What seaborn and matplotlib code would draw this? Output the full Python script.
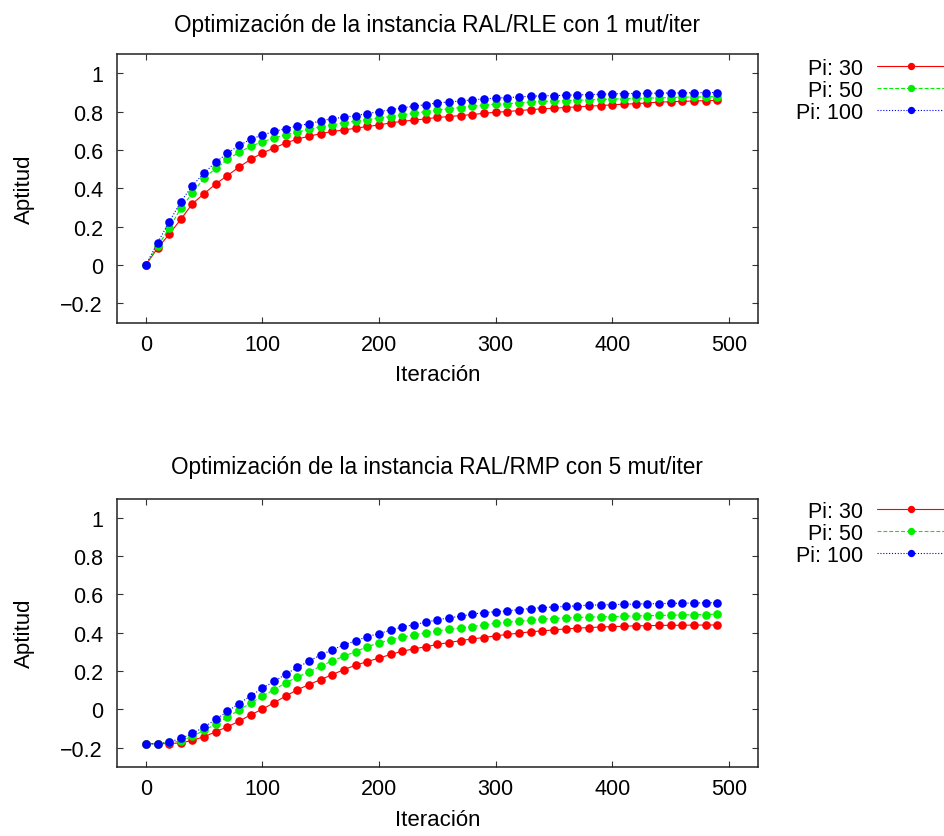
import matplotlib
matplotlib.use("Agg")
import matplotlib.pyplot as plt
import seaborn as sns

# Iteration numbers sampled every 10 steps
iteraciones = [0, 10, 20, 30, 40, 50, 60, 70, 80, 90,
               100, 110, 120, 130, 140, 150, 160, 170, 180, 190,
               200, 210, 220, 230, 240, 250, 260, 270, 280, 290,
               300, 310, 320, 330, 340, 350, 360, 370, 380, 390,
               400, 410, 420, 430, 440, 450, 460, 470, 480, 490]

# RAL/RLE, 1 mutation per iteration
rle_pi30 = [0.000, 0.087, 0.160, 0.238, 0.320, 0.372, 0.423, 0.466, 0.511, 0.551,
            0.584, 0.610, 0.636, 0.657, 0.671, 0.685, 0.696, 0.704, 0.713, 0.722,
            0.730, 0.741, 0.749, 0.755, 0.762, 0.769, 0.774, 0.779, 0.784, 0.791,
            0.796, 0.800, 0.805, 0.810, 0.814, 0.817, 0.821, 0.824, 0.828, 0.831,
            0.835, 0.838, 0.841, 0.845, 0.849, 0.851, 0.853, 0.855, 0.857, 0.858]
rle_pi50 = [0.000, 0.097, 0.191, 0.296, 0.376, 0.454, 0.503, 0.550, 0.588, 0.619,
            0.643, 0.661, 0.680, 0.692, 0.708, 0.720, 0.730, 0.741, 0.750, 0.758,
            0.765, 0.774, 0.783, 0.791, 0.800, 0.807, 0.814, 0.821, 0.828, 0.833,
            0.838, 0.841, 0.845, 0.849, 0.853, 0.854, 0.857, 0.859, 0.861, 0.863,
            0.865, 0.867, 0.868, 0.870, 0.871, 0.873, 0.875, 0.875, 0.877, 0.878]
rle_pi100 = [0.000, 0.115, 0.224, 0.330, 0.414, 0.480, 0.536, 0.583, 0.623, 0.656,
             0.678, 0.696, 0.711, 0.725, 0.737, 0.751, 0.763, 0.770, 0.779, 0.789,
             0.800, 0.809, 0.819, 0.828, 0.836, 0.845, 0.850, 0.855, 0.861, 0.866,
             0.870, 0.873, 0.876, 0.880, 0.882, 0.883, 0.885, 0.887, 0.888, 0.890,
             0.892, 0.894, 0.894, 0.895, 0.896, 0.897, 0.897, 0.898, 0.899, 0.899]

# RAL/RMP, 5 mutations per iteration
rmp_pi30 = [-0.179, -0.179, -0.178, -0.174, -0.161, -0.142, -0.116, -0.090, -0.061, -0.028,
            0.002, 0.035, 0.070, 0.103, 0.130, 0.156, 0.182, 0.208, 0.231, 0.250,
            0.268, 0.287, 0.304, 0.316, 0.327, 0.339, 0.349, 0.359, 0.368, 0.375,
            0.384, 0.391, 0.398, 0.405, 0.410, 0.415, 0.420, 0.424, 0.427, 0.430,
            0.432, 0.434, 0.436, 0.437, 0.438, 0.439, 0.439, 0.440, 0.440, 0.441]
rmp_pi50 = [-0.179, -0.179, -0.172, -0.165, -0.139, -0.109, -0.076, -0.040, -0.003, 0.033,
            0.070, 0.103, 0.139, 0.169, 0.196, 0.226, 0.254, 0.278, 0.302, 0.327,
            0.347, 0.363, 0.377, 0.389, 0.400, 0.410, 0.417, 0.426, 0.432, 0.441,
            0.450, 0.455, 0.460, 0.465, 0.471, 0.474, 0.478, 0.480, 0.481, 0.483,
            0.484, 0.486, 0.488, 0.489, 0.490, 0.491, 0.493, 0.494, 0.495, 0.497]
rmp_pi100 = [-0.179, -0.179, -0.170, -0.151, -0.125, -0.092, -0.052, -0.010, 0.031, 0.071,
             0.111, 0.146, 0.184, 0.219, 0.252, 0.285, 0.311, 0.337, 0.358, 0.380,
             0.396, 0.413, 0.430, 0.442, 0.455, 0.467, 0.478, 0.486, 0.497, 0.505,
             0.510, 0.514, 0.521, 0.526, 0.531, 0.535, 0.537, 0.540, 0.544, 0.545,
             0.547, 0.548, 0.550, 0.551, 0.552, 0.553, 0.554, 0.555, 0.556, 0.557]

series_labels = ["Pi: 30", "Pi: 50", "Pi: 100"]
titles = ["Optimización de la instancia RAL/RLE con 1 mut/iter",
          "Optimización de la instancia RAL/RMP con 5 mut/iter"]
x_ticks = [0, 100, 200, 300, 400, 500]
y_ticks = [-0.2, 0, 0.2, 0.4, 0.6, 0.8, 1]
y_tick_labels = ["\u22120.2", "0", "0.2", "0.4", "0.6", "0.8", "1"]

sns.set_theme(style="white")
plt.rcParams["font.family"] = ["Liberation Sans", "DejaVu Sans"]
plt.rcParams["axes.unicode_minus"] = True
plt.rcParams["text.color"] = "black"
plt.rcParams["axes.labelcolor"] = "black"
plt.rcParams["xtick.color"] = "black"
plt.rcParams["ytick.color"] = "black"

colors = ["#ff0000", "#00ee00", "#0000ff"]
styles = ["-", (0, (3.5, 1.8)), (0, (1.0, 1.6))]

W, H = 945, 837
fig = plt.figure(figsize=(W / 100, H / 100), dpi=100)

panels = [
    ((116.7, 55.0, 758.0, 323.5), [rle_pi30, rle_pi50, rle_pi100], 16.6, 59.0),
    ((116.7, 499.5, 758.0, 768.0), [rmp_pi30, rmp_pi50, rmp_pi100], 18.5, 502.0),
]

for idx, ((x0, y0, x1, y1), series, tpad, leg_top) in enumerate(panels):
    ax = fig.add_axes([x0 / W, 1 - y1 / H, (x1 - x0) / W, (y1 - y0) / H])
    for vals, lab, col, ls in zip(series, series_labels, colors, styles):
        sns.lineplot(x=iteraciones, y=vals, ax=ax, color=col, linestyle=ls,
                     linewidth=0.8, marker="o", markersize=6.2,
                     markeredgewidth=0, label=lab)
    ax.set_xlim(-25, 525)
    ax.set_ylim(-0.3, 1.1)
    ax.set_xticks(x_ticks)
    ax.set_yticks(y_ticks)
    ax.set_yticklabels(y_tick_labels)
    ax.tick_params(direction="in", length=4, width=0.8, color="#333333",
                   labelcolor="black", labelsize=15.5,
                   top=True, right=True, bottom=True, left=True,
                   labeltop=False, labelright=False)
    ax.tick_params(axis="x", pad=8)
    ax.tick_params(axis="y", pad=10)
    for sp in ax.spines.values():
        sp.set_color("#222222")
        sp.set_linewidth(1.1)
    ax.set_xlabel("Iteración", fontsize=16, labelpad=7, color="black")
    ax.set_ylabel("Aptitud", fontsize=16, labelpad=18, color="black")
    ax.set_title(titles[idx], fontsize=16.3, pad=tpad, color="black")
    leg = ax.legend(loc="upper right",
                    bbox_to_anchor=((944 - x0) / (x1 - x0), (y1 - leg_top) / (y1 - y0)),
                    frameon=False, markerfirst=False, fontsize=15.5,
                    handlelength=3.1, handletextpad=0.67, labelspacing=0.04,
                    borderpad=0, borderaxespad=0, markerscale=0.85, numpoints=1)
    for t in leg.get_texts():
        t.set_color("black")
    for h, col in zip(leg.legend_handles, colors):
        h.set_color(col)
        h.set_markerfacecolor(col)

fig.savefig("out.png", dpi=100)
